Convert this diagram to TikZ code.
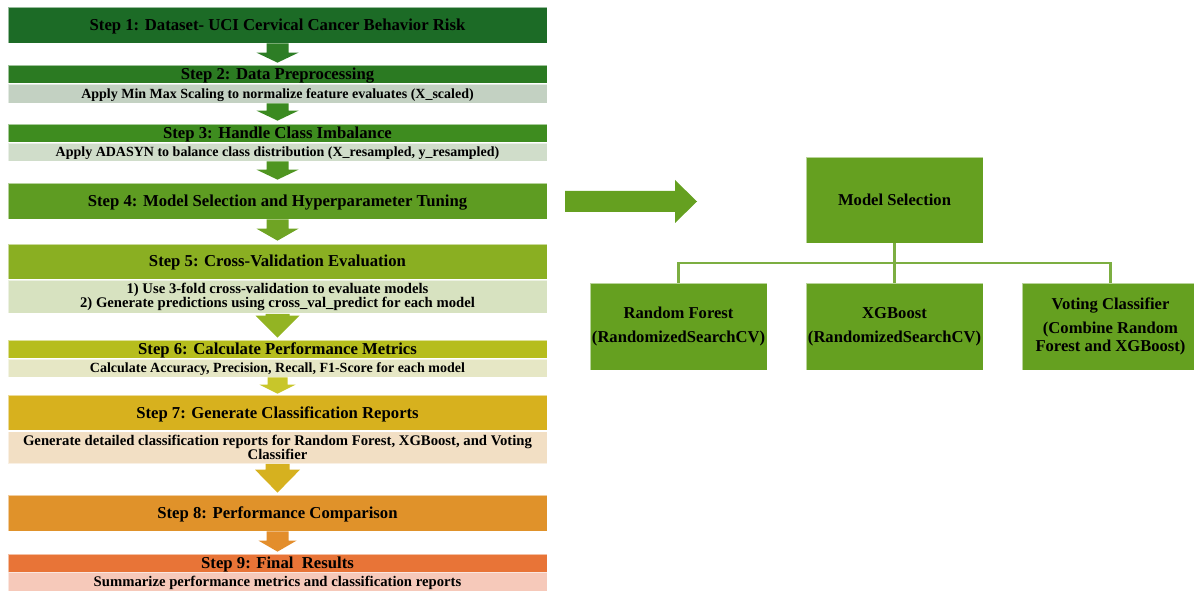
\documentclass[tikz,border=0pt]{standalone}
\usepackage{fontspec}
\setmainfont{Liberation Serif}
\usetikzlibrary{calc}
\definecolor{cA}{HTML}{1C6B26}
\definecolor{cB}{HTML}{2B7A22}
\definecolor{cBs}{HTML}{C3D1C2}
\definecolor{cC}{HTML}{3E8C1F}
\definecolor{cCs}{HTML}{D0DDCA}
\definecolor{cD}{HTML}{5E9C22}
\definecolor{cE}{HTML}{8AAF22}
\definecolor{cEs}{HTML}{D7E2C0}
\definecolor{cF}{HTML}{B6BD1D}
\definecolor{cFs}{HTML}{E6E7C5}
\definecolor{cG}{HTML}{D7B11E}
\definecolor{cGs}{HTML}{F2DFC4}
\definecolor{cH}{HTML}{E0922A}
\definecolor{cI}{HTML}{E87437}
\definecolor{cIs}{HTML}{F6C9BA}
\definecolor{mgreen}{HTML}{65A020}
\definecolor{a1}{HTML}{2D7D25}
\definecolor{a2}{HTML}{3A8A20}
\definecolor{a3}{HTML}{4F9521}
\definecolor{a4}{HTML}{6FA424}
\definecolor{a5}{HTML}{93B423}
\definecolor{a6}{HTML}{C8C62A}
\definecolor{a7}{HTML}{D6B11F}
\definecolor{a8}{HTML}{E38E2C}
\newcommand\blkarrow[7]{%
  \fill[#3] let \p1=(#1.south), \p2=(#2.north) in
   (\x1-#4,\y1) -- (\x1+#4,\y1) -- (\x1+#4,\y2+#7+#6) -- (\x1+#5,\y2+#7+#6)
   -- (\x1,\y2+#7) -- (\x1-#5,\y2+#7+#6) -- (\x1-#4,\y2+#7+#6) -- cycle;}
\begin{document}
\begin{tikzpicture}[x=1pt,y=-1pt,
  hdr/.style={rectangle, draw=white, draw opacity=0.55, line width=0.7pt, inner sep=0pt,
    minimum width=539pt, align=center, text=black,
    font=\bfseries\fontsize{16.7}{18}\selectfont},
  one/.style={text height=14.5pt, text depth=3.5pt},
  ones/.style={text height=12.5pt, text depth=3pt},
  sub/.style={hdr, font=\bfseries\fontsize{14}{14.5}\selectfont},
  subl/.style={hdr, font=\bfseries\fontsize{14.7}{14.5}\selectfont},
  mbox/.style={rectangle, fill=mgreen, draw=white, draw opacity=0.55, line width=0.7pt,
    minimum width=177pt, minimum height=86pt, inner sep=0pt, align=center, text=black,
    font=\bfseries\fontsize{16.6}{18}\selectfont},
  conn/.style={draw=mgreen!85!white, line width=2.2pt}]
\useasboundingbox (0,0) rectangle (1194,593);
\clip (0,0) rectangle (1194,593);
% left column
\node[hdr, one, fill=cA, minimum height=36pt] (s1) at (277.5,25) {Step 1: Dataset- UCI Cervical Cancer Behavior Risk};
\node[hdr, one, fill=cB, minimum height=18pt] (s2) at (277.5,74) {Step 2: Data Preprocessing};
\node[sub, ones, fill=cBs, minimum height=19pt] (s2b) at (277.5,93.5) {Apply Min Max Scaling to normalize feature evaluates (X\_scaled)};
\node[hdr, one, fill=cC, minimum height=18pt] (s3) at (277.5,133) {Step 3: Handle Class Imbalance};
\node[sub, ones, fill=cCs, minimum height=18pt] (s3b) at (277.5,152) {Apply ADASYN to balance class distribution (X\_resampled, y\_resampled)};
\node[hdr, one, fill=cD, minimum height=36pt] (s4) at (277.5,201) {Step 4: Model Selection and Hyperparameter Tuning};
\node[hdr, one, fill=cE, minimum height=35pt] (s5) at (277.5,261.5) {Step 5: Cross-Validation Evaluation};
\node[subl, fill=cEs, minimum height=33pt] (s5b) at (277.5,297) {1) Use 3-fold cross-validation to evaluate models\\2) Generate predictions using cross\_val\_predict for each model};
\node[hdr, one, fill=cF, minimum height=18pt] (s6) at (277.5,349) {Step 6: Calculate Performance Metrics};
\node[sub, ones, fill=cFs, minimum height=18pt] (s6b) at (277.5,368) {Calculate Accuracy, Precision, Recall, F1-Score for each model};
\node[hdr, one, fill=cG, minimum height=35pt] (s7) at (277.5,412.5) {Step 7: Generate Classification Reports};
\node[subl, fill=cGs, minimum height=32pt] (s7b) at (277.5,447.5) {Generate detailed classification reports for Random Forest, XGBoost, and Voting\\Classifier};
\node[hdr, one, fill=cH, minimum height=36pt] (s8) at (277.5,513) {Step 8: Performance Comparison};
\node[hdr, one, fill=cI, minimum height=18pt] (s9) at (277.5,563) {Step 9: Final\ \ Results};
\node[subl, ones, fill=cIs, minimum height=19pt] (s9b) at (277.5,581.5) {Summarize performance metrics and classification reports};
% block arrows
\blkarrow{s1}{s2}{a1}{11pt}{21pt}{10pt}{2pt}
\blkarrow{s2b}{s3}{a2}{11pt}{21pt}{10pt}{3pt}
\blkarrow{s3b}{s4}{a3}{11pt}{21pt}{10pt}{3pt}
\blkarrow{s4}{s5}{a4}{11pt}{21pt}{12pt}{3pt}
\blkarrow{s5b}{s6}{a5}{12pt}{22pt}{22pt}{2pt}
\blkarrow{s6b}{s7}{a6}{10pt}{18pt}{9pt}{1pt}
\blkarrow{s7b}{s8}{a7}{12pt}{22.5pt}{23pt}{2pt}
\blkarrow{s8}{s9}{a8}{11pt}{19pt}{11pt}{2pt}
% right part
\node[mbox] (ms) at (894.5,200) {Model Selection};
\node[mbox, minimum height=87pt] (rf) at (678.5,326.5) {Random Forest\\[6pt](RandomizedSearchCV)};
\node[mbox, minimum height=87pt] (xg) at (894.5,326.5) {XGBoost\\[6pt](RandomizedSearchCV)};
\node[mbox, minimum height=87pt] (vc) at (1110.5,326.5) {Voting Classifier\\[6pt](Combine Random\\Forest and XGBoost)};
\coordinate (bus) at (894.5,263);
\draw[conn] (ms.south) -- (xg.north);
\draw[conn] (rf.north) |- (bus) -| (vc.north);
% big right arrow
\coordinate (ra1) at (565,201.5);
\coordinate (ra2) at (697,201.5);
\fill[mgreen] let \p1=(ra1), \p2=(ra2) in
  (\x1,\y1+10.5pt) -- (\x2-22pt,\y1+10.5pt) -- (\x2-22pt,\y1+21.5pt) -- (\x2,\y1)
  -- (\x2-22pt,\y1-21.5pt) -- (\x2-22pt,\y1-10.5pt) -- (\x1,\y1-10.5pt) -- cycle;
\end{tikzpicture}
\end{document}
